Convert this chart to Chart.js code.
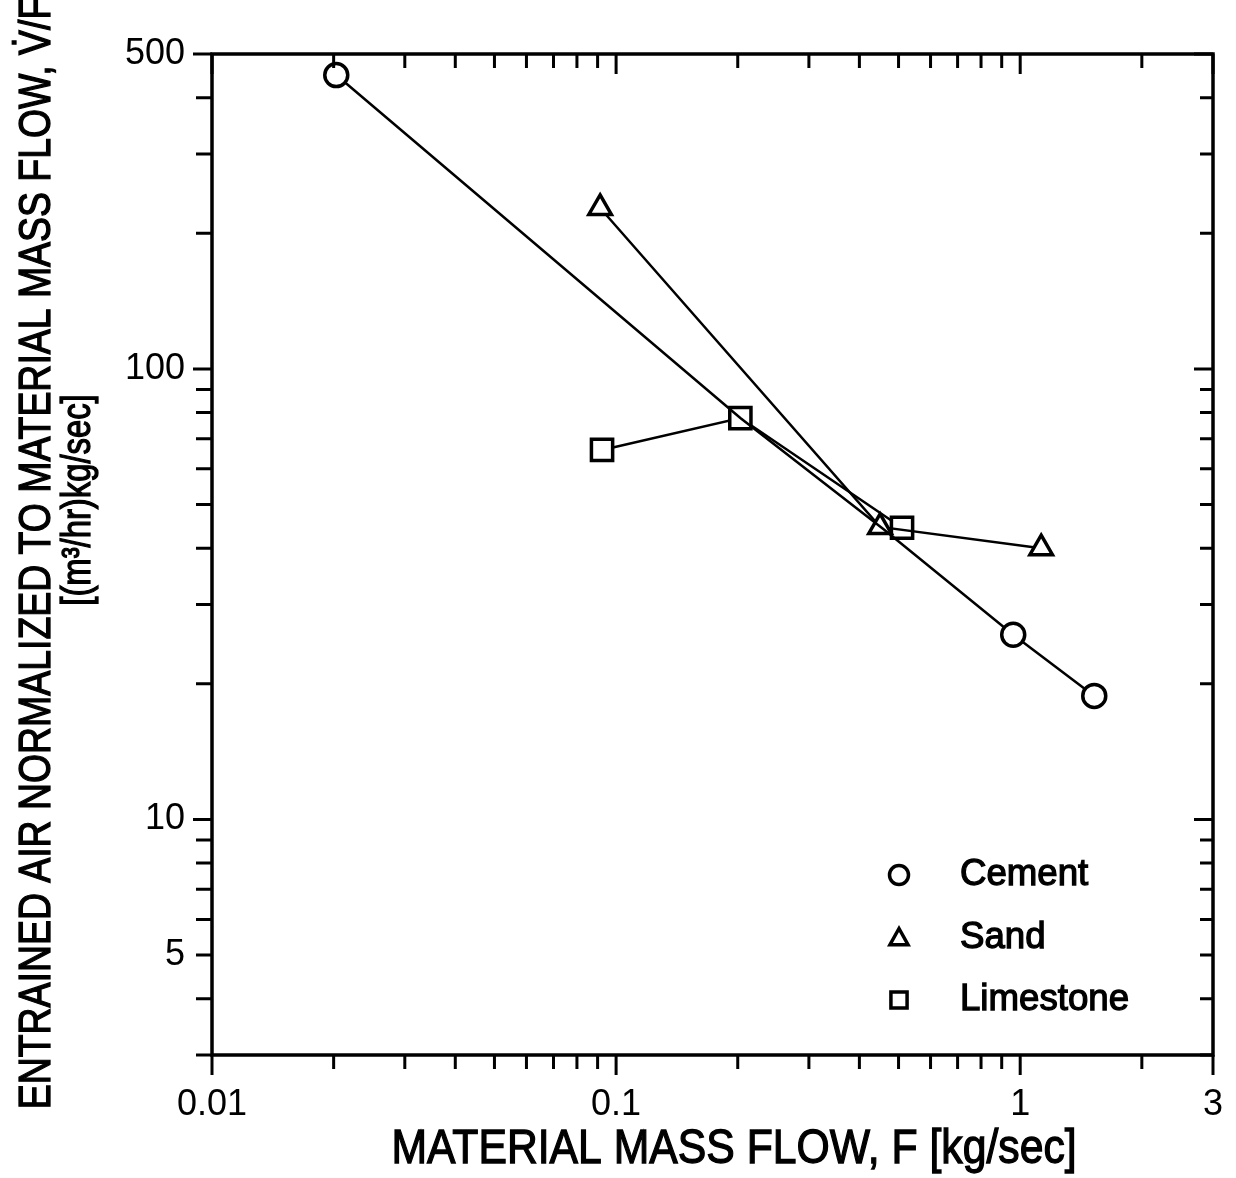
<!DOCTYPE html>
<html>
<head>
<meta charset="utf-8">
<script src="https://cdn.jsdelivr.net/npm/chart.js@4.4.0/dist/chart.umd.min.js"></script>
<style>
  html, body { margin: 0; padding: 0; background: #fff; }
  #wrap { width: 1236px; height: 1178px; }
</style>
</head>
<body>
<div id="wrap"><canvas id="chartCanvas" width="1236" height="1178"></canvas></div>
<script>
"use strict";

// values (x in kg/sec, y in (m3/hr)/(kg/sec))
const cementX = [0.0203, 0.203, 0.46, 0.961, 1.525];
const cementY = [449, 77.8, 44, 25.7, 18.8];
const cementMarked = [true, false, false, true, true];
const sandX = [0.0913, 0.45, 1.127];
const sandY = [227.6, 44.6, 40.0];
const limestoneX = [0.0923, 0.203, 0.51];
const limestoneY = [66.1, 77.8, 44.4];

const seriesNames = ["Cement", "Sand", "Limestone"];
const seriesMarkers = ["circle", "triangle", "rect"];
const xTickLabels = [0.01, 0.1, 1, 3];
const yTickLabels = [500, 100, 10, 5];
const xMajor = [0.01, 0.1, 1, 3];
const yMajor = [500, 100, 10];
const xTitle = "MATERIAL MASS FLOW, F [kg/sec]";
const yTitle = ["ENTRAINED AIR NORMALIZED TO MATERIAL MASS FLOW, V\u0307/F", "[(m\u00b3/hr)kg/sec]"];

const FONT = "'Liberation Sans', Arial, Helvetica, sans-serif";

function toPoints(xs, ys) {
  return xs.map((x, i) => ({ x: x, y: ys[i] }));
}

function logMinors(lo, hi) {
  const out = [];
  for (let d = 0.001; d <= hi; d *= 10) {
    for (let m = 1; m <= 9; m++) {
      const v = +(m * d).toPrecision(3);
      if (v >= lo && v <= hi) out.push(v);
    }
  }
  return out;
}

function drawMarker(ctx, style, x, y, r) {
  ctx.beginPath();
  if (style === "circle") {
    ctx.arc(x, y, r, 0, Math.PI * 2);
  } else if (style === "triangle") {
    ctx.moveTo(x, y - r);
    ctx.lineTo(x + r * 0.95, y + r * 0.7);
    ctx.lineTo(x - r * 0.95, y + r * 0.7);
    ctx.closePath();
  } else {
    ctx.rect(x - r * 0.85, y - r * 0.85, r * 1.7, r * 1.7);
  }
  ctx.fillStyle = "#fff";
  ctx.fill();
  ctx.stroke();
}

// narrow, slightly heavy text like the scanned original
function narrowText(ctx, text, x, y, size, squeeze, angle) {
  ctx.save();
  ctx.translate(x, y);
  if (angle) ctx.rotate(angle);
  ctx.scale(squeeze, 1);
  ctx.font = size + "px " + FONT;
  ctx.lineWidth = 1.3;
  ctx.fillText(text, 0, 0);
  ctx.strokeText(text, 0, 0);
  ctx.restore();
}

// frame, inward/outward ticks, axis titles and legend
const framePlugin = {
  id: "frame",
  afterDraw(chart) {
    const ctx = chart.ctx;
    const a = chart.chartArea;
    const xs = chart.scales.x;
    const ys = chart.scales.y;
    ctx.save();
    ctx.strokeStyle = "#000";
    ctx.lineWidth = 3.5;
    ctx.strokeRect(a.left, a.top, a.right - a.left, a.bottom - a.top);

    ctx.lineWidth = 3;
    ctx.beginPath();
    logMinors(0.01, 3).forEach(v => {
      const px = xs.getPixelForValue(v);
      const major = xMajor.includes(v);
      // bottom: outward
      ctx.moveTo(px, a.bottom);
      ctx.lineTo(px, a.bottom + (major ? 20 : 14));
      // top: inward
      ctx.moveTo(px, a.top);
      ctx.lineTo(px, a.top + (major ? 20 : 14));
    });
    logMinors(3, 500).forEach(v => {
      const py = ys.getPixelForValue(v);
      const major = yMajor.includes(v);
      // left: outward
      ctx.moveTo(a.left, py);
      ctx.lineTo(a.left - (major ? 19 : 16), py);
      // right: inward
      ctx.moveTo(a.right, py);
      ctx.lineTo(a.right - (major ? 19 : 13), py);
    });
    ctx.stroke();

    ctx.fillStyle = "#000";
    ctx.strokeStyle = "#000";
    ctx.textAlign = "center";
    ctx.textBaseline = "middle";
    // x axis title
    narrowText(ctx, xTitle, 734, 1150, 48, 0.89, 0);
    // y axis title, two rotated lines
    narrowText(ctx, yTitle[0], 38, 553, 44, 0.85, -Math.PI / 2);
    narrowText(ctx, yTitle[1], 79, 500, 40, 0.82, -Math.PI / 2);

    // legend
    const legendY = [875, 938, 1000];
    ctx.textAlign = "left";
    seriesNames.forEach((name, i) => {
      ctx.lineWidth = 3.5;
      drawMarker(ctx, seriesMarkers[i], 899, legendY[i], 9.5);
      ctx.fillStyle = "#000";
      narrowText(ctx, name, 960, legendY[i], 37, 0.99, 0);
    });
    ctx.restore();
  }
};

const commonSet = {
  showLine: true,
  borderColor: "#000",
  borderWidth: 2.5,
  pointBorderColor: "#000",
  pointBackgroundColor: "#fff",
  pointBorderWidth: 3.5,
  tension: 0
};

const chart = new Chart(document.querySelector("#chartCanvas").getContext("2d"), {
  type: "scatter",
  data: {
    datasets: [
      Object.assign({}, commonSet, {
        label: seriesNames[0],
        data: toPoints(cementX, cementY),
        pointStyle: "circle",
        pointRadius: cementMarked.map(m => (m ? 11.5 : 0))
      }),
      Object.assign({}, commonSet, {
        label: seriesNames[1],
        data: toPoints(sandX, sandY),
        pointStyle: "triangle",
        pointRadius: 13
      }),
      Object.assign({}, commonSet, {
        label: seriesNames[2],
        data: toPoints(limestoneX, limestoneY),
        pointStyle: "rect",
        pointRadius: 15
      })
    ]
  },
  options: {
    responsive: false,
    animation: false,
    devicePixelRatio: 1,
    layout: { padding: { top: 54, right: 23, left: 0, bottom: 0 } },
    plugins: {
      legend: { display: false },
      tooltip: { enabled: false }
    },
    scales: {
      x: {
        type: "logarithmic",
        position: "bottom",
        min: 0.01,
        max: 3,
        grid: { display: false, drawTicks: false },
        border: { display: false },
        afterBuildTicks: s => { s.ticks = xTickLabels.map(v => ({ value: v })); },
        afterFit: s => { s.height = 123; s.paddingLeft = 0; s.paddingRight = 0; },
        ticks: {
          autoSkip: false,
          maxRotation: 0,
          padding: 28,
          color: "#000",
          font: { family: FONT, size: 36 },
          callback: v => String(v)
        }
      },
      y: {
        type: "logarithmic",
        min: 3,
        max: 500,
        grid: { display: false, drawTicks: false },
        border: { display: false },
        afterBuildTicks: s => { s.ticks = yTickLabels.map(v => ({ value: v })); },
        afterFit: s => { s.width = 212; s.paddingTop = 0; s.paddingBottom = 0; },
        ticks: {
          autoSkip: false,
          padding: 27,
          color: "#000",
          font: { family: FONT, size: 36 },
          callback: v => String(v)
        }
      }
    }
  },
  plugins: [framePlugin]
});
</script>
</body>
</html>
